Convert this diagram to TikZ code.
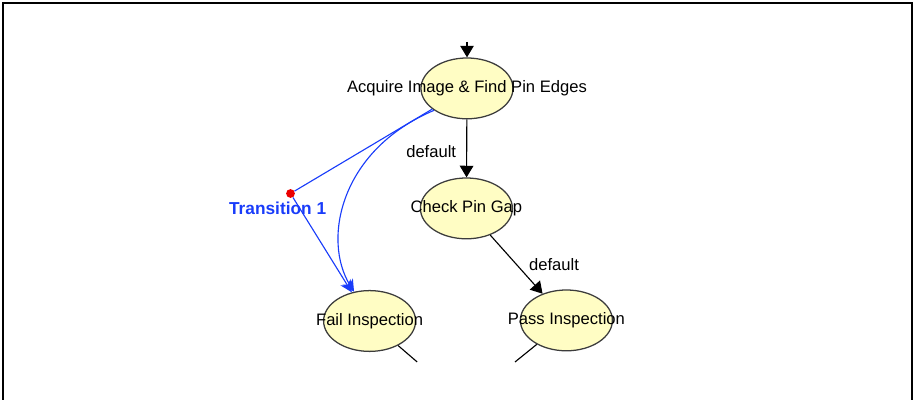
\documentclass[tikz,border=0pt]{standalone}
\usepackage{fontspec}
\setsansfont{Liberation Sans}
\usetikzlibrary{arrows.meta,shapes.geometric}
\definecolor{statefill}{RGB}{255,253,196}
\definecolor{stateline}{RGB}{60,60,60}
\definecolor{transblue}{RGB}{25,60,250}
\definecolor{dotred}{RGB}{235,0,0}

\begin{document}
\begin{tikzpicture}[
    st/.style={ellipse, draw=stateline, fill=statefill, line width=0.9pt,
               minimum width=2.3cm, minimum height=1.52cm, inner sep=0pt},
    txt/.style={font=\sffamily\fontsize{11.8}{14}\selectfont, inner sep=0pt},
    arr/.style={-{Triangle[width=3.4mm,length=2.9mm]}, line width=0.8pt, draw=black},
    stub/.style={line width=0.8pt, draw=black},
    trans/.style={-{Stealth[width=3mm,length=3mm]}, line width=0.8pt, draw=transblue},
    transtxt/.style={font=\sffamily\bfseries\fontsize{12.3}{14}\selectfont,
                     text=transblue, inner sep=0pt},
    junc/.style={circle, fill=dotred, minimum size=2.2mm, inner sep=0pt}
]
\useasboundingbox (0,0) rectangle (22.85,10);
\draw[line width=1.4pt] (0.075,0) -- (0.075,9.925) -- (22.8,9.925) -- (22.8,0);

% states
\node[st] (acq) at (11.675,7.79) {};
\node[st] (chk) at (11.66,4.79) {};
\node[st] (pass) at (14.16,1.99) {};
\node[st] (fail) at (9.24,1.975) {};

\coordinate (entry) at (11.675,8.95);
\coordinate (failout) at (10.43,0.95);
\coordinate (passout) at (12.875,0.95);

\draw[arr] (entry) -- (acq);
\draw[arr] (acq) -- (chk);
\node[txt] (d1) at (10.78,6.2) {default};
\draw[arr] (chk) -- (pass);
\node[txt] (d2) at (13.85,3.375) {default};
\draw[stub] (fail) -- (failout);
\draw[stub] (pass) -- (passout);

% transition 1
\node[junc] (t1) at (7.2625,5.1625) {};
\node[transtxt] (t1lbl) at (6.94,4.8) {Transition 1};
\draw[line width=0.8pt, draw=transblue] (acq) -- (t1);
\draw[trans] (t1) -- (fail);
\draw[trans] (acq.south west) .. controls (8.5,6.25) and (8.05,4.0) .. (fail.118);

\node[txt] (acqt) at (acq) {Acquire Image \& Find Pin Edges};
\node[txt] (chkt) at (chk) {Check Pin Gap};
\node[txt] (passt) at (pass) {Pass Inspection};
\node[txt] (failt) at (fail) {Fail Inspection};
\end{tikzpicture}
\end{document}
